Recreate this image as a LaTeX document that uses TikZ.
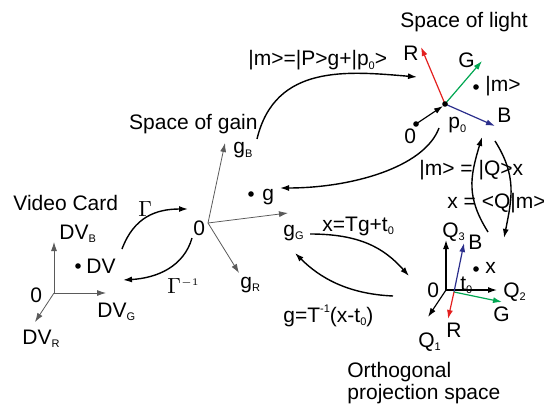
\documentclass[tikz,border=0pt]{standalone}
\usepackage{fontspec}
\setmainfont{Liberation Sans}
\usepackage{tikz}
\usetikzlibrary{arrows.meta,positioning}
\definecolor{RayRed}{HTML}{E3201F}
\definecolor{RayGreen}{HTML}{00A651}
\definecolor{RayBlue}{HTML}{2B2E8C}
\definecolor{AxisGray}{HTML}{5A5A5A}
\newcommand{\lowidx}[1]{\raisebox{-0.35ex}{\fontsize{5.5}{6}\selectfont #1}}
\newcommand{\upidx}[1]{\raisebox{0.9ex}{\fontsize{5.5}{6}\selectfont #1}}

\begin{document}
\begin{tikzpicture}[x=0.5pt,y=-0.5pt,>={Latex[length=4.5pt,width=3pt]},
  lbl/.style={inner sep=0pt,anchor=base west,font=\fontsize{10.5}{11}\selectfont},
  axis/.style={->,AxisGray,line width=0.4pt},
  vec/.style={->,line width=0.6pt},
  map/.style={->,line width=0.7pt},
  dot/.style={circle,fill=black,inner sep=0pt,minimum size=2.8pt}]
  \useasboundingbox (0,0) rectangle (544,406);

  % video card
  \node[lbl] (vc) at (13,210) {Video Card};
  \coordinate (dvO) at (54,293);
  \coordinate (dvB) at (54,242);
  \coordinate (dvG) at (106,293);
  \coordinate (dvR) at (35,322);
  \draw[axis] (dvO) -- (dvB);
  \draw[axis] (dvO) -- (dvG);
  \draw[axis] (dvO) -- (dvR);
  \node[lbl] (dvZero) at (30,302) {0};
  \node[lbl] (dvBl) at (59,239) {DV\lowidx{B}};
  \node[lbl] (dvGl) at (97,317) {DV\lowidx{G}};
  \node[lbl] (dvRl) at (22,344) {DV\lowidx{R}};
  \node[dot] (dvPt) at (78,266) {};
  \node[lbl] (dvTxt) at (86,273) {DV};

  % space of gain
  \node[lbl,anchor=base east] (sg) at (258,130) {Space of gain};
  \coordinate (gO) at (208,223);
  \coordinate (gB) at (225,143);
  \coordinate (gG) at (288,213);
  \coordinate (gR) at (239,273);
  \draw[axis] (gO) -- (gB);
  \draw[axis] (gO) -- (gG);
  \draw[axis] (gO) -- (gR);
  \node[lbl] (gZero) at (193,235) {0};
  \node[lbl] (gBl) at (233,154) {g\lowidx{B}};
  \node[lbl] (gGl) at (283,236) {g\lowidx{G}};
  \node[lbl] (gRl) at (240,288) {g\lowidx{R}};
  \node[dot] (gPt) at (251,194) {};
  \node[lbl] (gTxt) at (262,200) {g};

  % space of light
  \node[lbl] (sl) at (400,28) {Space of light};
  \coordinate (p0) at (445,104);
  \coordinate (lR) at (421,47);
  \coordinate (lG) at (482,61);
  \coordinate (lB) at (495,126);
  \coordinate (lZ) at (416,124);
  \coordinate (lZe) at (443,106);
  \draw[vec,RayRed] (p0) -- (lR);
  \draw[vec,RayGreen] (p0) -- (lG);
  \draw[vec,RayBlue] (p0) -- (lB);
  \draw[vec] (lZ) -- (lZe);
  \node[dot] (p0Pt) at (p0) {};
  \node[dot] (lZPt) at (lZ) {};
  \node[lbl] (lRl) at (403,61) {R};
  \node[lbl] (lGl) at (458,68) {G};
  \node[lbl] (lBl) at (497,123) {B};
  \node[lbl] (lZl) at (404,143) {0};
  \node[lbl] (p0l) at (448,129) {p\lowidx{0}};
  \node[dot] (mPt) at (476,87) {};
  \node[lbl] (mTxt) at (485,92) {|m>};

  % orthogonal projection space
  \node[inner sep=0pt,anchor=north west,align=left,font=\fontsize{10.5}{11}\selectfont] (ops) at (347,362) {Orthogonal\\projection space};
  \coordinate (qO) at (446,290);
  \coordinate (q3) at (446,240);
  \coordinate (q2) at (497,290);
  \coordinate (q1) at (428,317);
  \coordinate (t0) at (454,292);
  \coordinate (qB) at (464,243);
  \coordinate (qG) at (502,302);
  \coordinate (qR) at (448,319);
  \draw[vec] (qO) -- (q3);
  \draw[vec] (qO) -- (q2);
  \draw[vec] (qO) -- (q1);
  \draw[vec,RayBlue] (t0) -- (qB);
  \draw[vec,RayGreen] (t0) -- (qG);
  \draw[vec,RayRed] (t0) -- (qR);
  \node[lbl] (q3l) at (442,237) {Q\lowidx{3}};
  \node[lbl] (q2l) at (503,297) {Q\lowidx{2}};
  \node[lbl] (q1l) at (418,347) {Q\lowidx{1}};
  \node[lbl] (qZl) at (427,297) {0};
  \node[lbl] (t0l) at (460,290) {t\lowidx{0}};
  \node[lbl] (qBl) at (468,249) {B};
  \node[lbl] (qGl) at (493,321) {G};
  \node[lbl] (qRl) at (446,337) {R};
  \node[dot] (xPt) at (476,269) {};
  \node[lbl] (xTxt) at (485,273) {x};

  % maps
  \coordinate (gamS) at (122,249);
  \coordinate (gamE) at (188,209);
  \coordinate (giS) at (192,238);
  \coordinate (giE) at (123,280);
  \draw[map] (gamS) .. controls +(12,-32) and +(-32,0) .. (gamE);
  \draw[map] (giS) .. controls +(-8,28) and +(35,-2) .. (giE);
  \node[lbl] (gamL) at (138,216) {$\Gamma$};
  \node[lbl] (giL) at (167,293) {$\Gamma^{\scriptscriptstyle -1}$};

  \coordinate (pmS) at (257,139);
  \coordinate (pmE) at (417,77);
  \coordinate (lgS) at (439,128);
  \coordinate (lgE) at (280,188);
  \draw[map] (pmS) .. controls +(18,-75) and +(-70,-6) .. (pmE);
  \draw[map] (lgS) .. controls +(-15,40) and +(70,0) .. (lgE);
  \node[lbl] (pmL) at (248,66) {|m>=|P>g+|p\lowidx{0}>};

  \coordinate (qlS) at (488,232);
  \coordinate (qlE) at (482,137);
  \coordinate (lqS) at (495,141);
  \coordinate (lqE) at (504,238);
  \draw[map] (qlS) .. controls +(-22,-35) and +(-12,40) .. (qlE);
  \draw[map] (lqS) .. controls +(22,35) and +(8,-40) .. (lqE);
  \node[lbl] (qlL) at (419,175) {|m> = |Q>x};
  \node[lbl] (lqL) at (447,208) {x = <Q|m>};

  \coordinate (gpS) at (310,234);
  \coordinate (gpE) at (409,276);
  \coordinate (pgS) at (393,296);
  \coordinate (pgE) at (295,253);
  \draw[map] (gpS) .. controls +(50,0) and +(-25,-28) .. (gpE);
  \draw[map] (pgS) .. controls +(-45,-2) and +(25,25) .. (pgE);
  \node[lbl] (gpL) at (322,231) {x=Tg+t\lowidx{0}};
  \node[lbl] (pgL) at (283,322) {g=T\upidx{-1}(x-t\lowidx{0})};
\end{tikzpicture}
\end{document}
